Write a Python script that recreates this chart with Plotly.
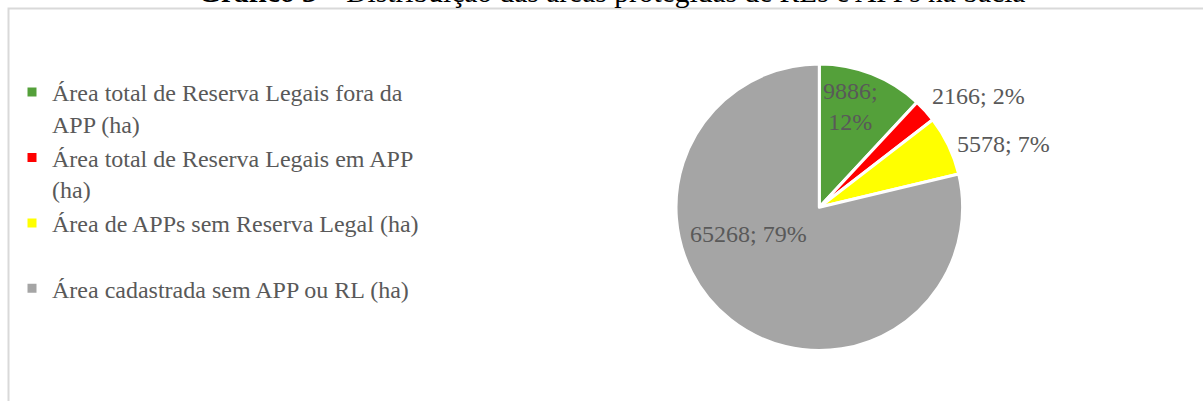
import math
import plotly.graph_objects as go

W, H = 1203, 401

categories = [
    "Área total de Reserva Legais fora da<br>APP (ha)",
    "Área total de Reserva Legais em APP<br>(ha)",
    "Área de APPs sem Reserva Legal (ha)<br>&nbsp;",
    "Área cadastrada sem APP ou RL (ha)",
]
values = [9886, 2166, 5578, 65268]
pct_labels = ["12%", "2%", "7%", "79%"]
colors = ["#54A03A", "#FF0000", "#FFFF00", "#A5A5A5"]

title_bold = "Gráfico 3"
title_rest = " – Distribuição das áreas protegidas de RLs e APPs na bacia"

# label style: separator, radial distance (fraction of radius), angle tweak (deg), anchor
label_sep = [";<br>", "; ", "; ", "; "]
label_rad = [0.734, 1.098, 1.045, 0.526]
label_tweak = [-4.0, -2.9, 0.5, 30.6]
label_anchor = ["center", "left", "left", "center"]

FONT = "Liberation Serif, Times New Roman, serif"
TXT = "#595959"

# pie geometry in pixels
cx, cy, r = 819.3, 207.3, 143.3


def px(x):
    return x / W


def py(y):
    return 1 - y / H


fig = go.Figure(
    go.Pie(
        labels=categories,
        values=values,
        textinfo="none",
        sort=False,
        direction="clockwise",
        rotation=0,
        marker=dict(colors=colors, line=dict(color="white", width=3)),
        hoverinfo="label+value+percent",
        domain=dict(x=[px(cx - r), px(cx + r)], y=[py(cy + r), py(cy - r)]),
    )
)

# slice labels placed from the slice angles derived from the values
total = sum(values)
annotations = []
cum = 0.0
for v, s, p, k, tw, anc in zip(values, label_sep, pct_labels, label_rad, label_tweak, label_anchor):
    mid = (cum + v / 2) / total * 360.0
    cum += v
    a = math.radians(mid + tw)
    lx = cx + k * r * math.sin(a)
    ly = cy - k * r * math.cos(a)
    annotations.append(
        dict(
            text=f"{v}{s}{p}",
            xref="paper",
            yref="paper",
            x=px(lx),
            y=py(ly),
            xanchor=anc,
            yanchor="middle",
            showarrow=False,
            align="center",
            font=dict(family=FONT, size=24, color=TXT),
        )
    )

annotations.append(
    dict(
        text=f"<b>{title_bold}</b>{title_rest}",
        xref="paper",
        yref="paper",
        x=px(611),
        y=py(-7.5),
        xanchor="center",
        yanchor="middle",
        showarrow=False,
        font=dict(family=FONT, size=29.5, color="#000000"),
    )
)

fig.update_layout(
    width=W,
    height=H,
    margin=dict(l=0, r=0, t=0, b=0),
    paper_bgcolor="white",
    plot_bgcolor="white",
    font=dict(family=FONT, size=24, color=TXT),
    showlegend=True,
    legend=dict(
        x=px(12),
        y=py(70),
        xanchor="left",
        yanchor="top",
        valign="top",
        font=dict(family=FONT, size=24, color=TXT),
        bgcolor="rgba(0,0,0,0)",
        traceorder="normal",
    ),
    shapes=[
        dict(
            type="rect",
            xref="paper",
            yref="paper",
            x0=px(8.5),
            x1=1.05,
            y0=-0.05,
            y1=py(8.5),
            line=dict(color="#D9D9D9", width=2),
            fillcolor="rgba(0,0,0,0)",
            layer="below",
        )
    ],
    annotations=annotations,
)

fig.write_html(
    "out.html",
    config={"displayModeBar": False},
    post_script="document.body.style.margin='0';",
)
